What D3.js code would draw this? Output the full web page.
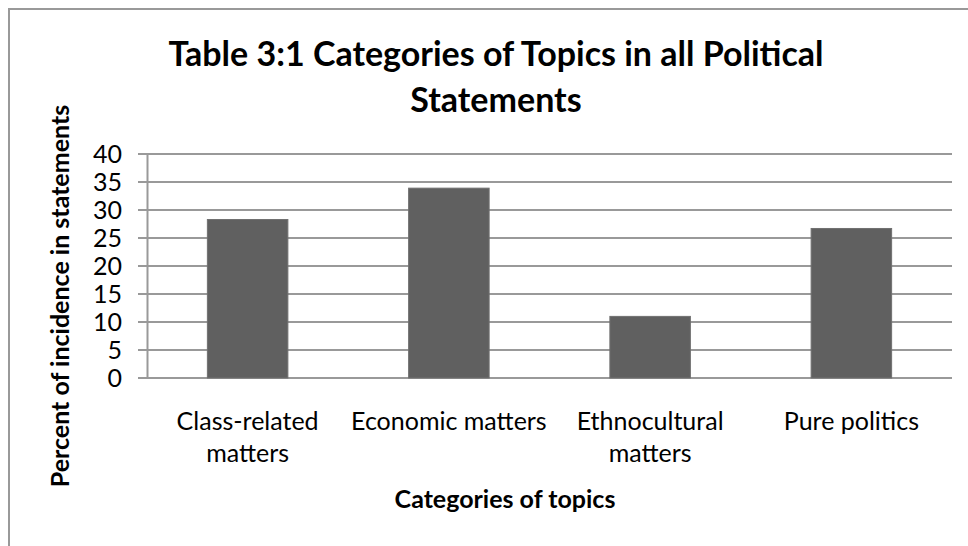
<!DOCTYPE html>
<html>
<head>
<meta charset="utf-8">
<script src="https://cdn.jsdelivr.net/npm/d3@7"></script>
<style>
  html, body { margin: 0; padding: 0; background: #fff; }
  svg { display: block; }
  text { font-family: Lato, "Noto Sans", sans-serif; fill: #000; }
</style>
</head>
<body>
<script>
// Topic categories and their share of political statements (%)
const categories = ["Class-related matters", "Economic matters", "Ethnocultural matters", "Pure politics"];
const categoryLines = [["Class-related", "matters"], ["Economic matters"], ["Ethnocultural", "matters"], ["Pure politics"]];
const percentValues = [28.3, 33.9, 11.0, 26.7];
const yTicks = [0, 5, 10, 15, 20, 25, 30, 35, 40];
const titleLines = ["Table 3:1 Categories of Topics in all Political", "Statements"];
const xTitle = "Categories of topics";
const yTitle = "Percent of incidence in statements";

const W = 968, H = 546;
const plot = { left: 147, right: 952, top: 154, bottom: 378 };

const svg = d3.select("body").append("svg")
  .attr("width", W).attr("height", H);

// chart frame (top and left edges visible)
svg.append("path")
  .attr("d", `M9,${H} V9 H${W}`)
  .attr("fill", "none")
  .attr("stroke", "#999")
  .attr("stroke-width", 2);

const x = d3.scaleBand()
  .domain(categories)
  .range([plot.left, plot.right])
  .paddingInner(0.6)
  .paddingOuter(0.3);

const y = d3.scaleLinear()
  .domain([0, 40])
  .range([plot.bottom, plot.top]);

// horizontal gridlines
svg.append("g")
  .selectAll("line")
  .data(yTicks)
  .join("line")
  .attr("x1", plot.left - 9)
  .attr("x2", plot.right)
  .attr("y1", d => y(d))
  .attr("y2", d => y(d))
  .attr("stroke", "#999")
  .attr("stroke-width", 2);

// y axis
const yAxis = d3.axisLeft(y).tickValues(yTicks).tickSize(0).tickPadding(25);
const yg = svg.append("g")
  .attr("transform", `translate(${plot.left},0)`)
  .call(yAxis);
yg.select(".domain").attr("stroke", "#999").attr("stroke-width", 2);
yg.selectAll("text")
  .attr("font-family", "Lato, sans-serif")
  .attr("font-size", 25)
  .attr("fill", "#000");

// bars
svg.append("g")
  .selectAll("rect")
  .data(categories)
  .join("rect")
  .attr("x", d => x(d))
  .attr("width", x.bandwidth())
  .attr("y", (d, i) => y(percentValues[i]))
  .attr("height", (d, i) => y(0) - y(percentValues[i]))
  .attr("fill", "#606060")
  .attr("stroke", "#707070")
  .attr("stroke-width", 1);

// category labels (wrapped)
const catG = svg.append("g");
categories.forEach((c, i) => {
  const t = catG.append("text")
    .attr("x", x(c) + x.bandwidth() / 2)
    .attr("y", 430)
    .attr("text-anchor", "middle")
    .attr("font-size", 25);
  categoryLines[i].forEach((ln, j) => {
    t.append("tspan")
      .attr("x", x(c) + x.bandwidth() / 2)
      .attr("dy", j === 0 ? 0 : 32)
      .text(ln);
  });
});

// chart title
const tt = svg.append("text")
  .attr("x", 496)
  .attr("y", 66)
  .attr("text-anchor", "middle")
  .attr("font-size", 34)
  .attr("font-weight", "bold");
titleLines.forEach((ln, j) => {
  tt.append("tspan").attr("x", 496).attr("dy", j === 0 ? 0 : 46).text(ln);
});

// axis titles
svg.append("text")
  .attr("x", 505)
  .attr("y", 508)
  .attr("text-anchor", "middle")
  .attr("font-size", 25)
  .attr("font-weight", "bold")
  .text(xTitle);

svg.append("text")
  .attr("transform", "translate(69,296) rotate(-90)")
  .attr("text-anchor", "middle")
  .attr("font-size", 25)
  .attr("font-weight", "bold")
  .text(yTitle);
</script>
</body>
</html>
